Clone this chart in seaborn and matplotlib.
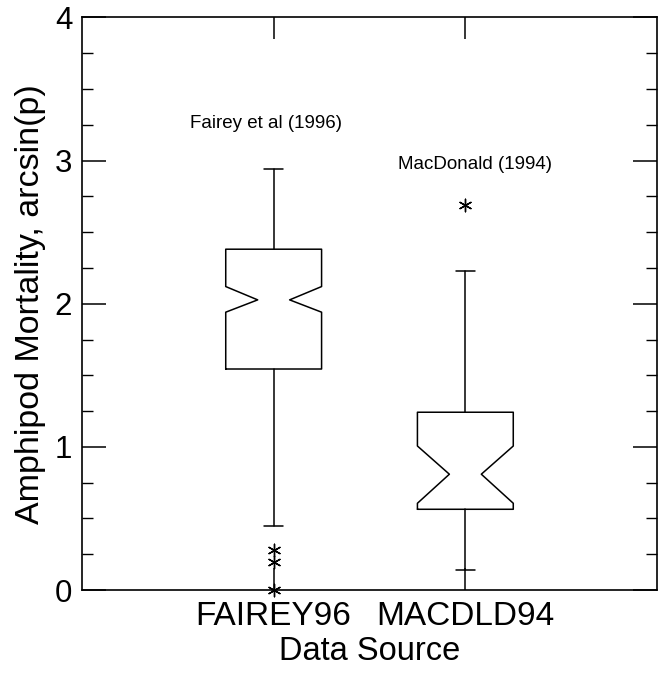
import numpy as np
import pandas as pd
import matplotlib
matplotlib.use("Agg")
import matplotlib.pyplot as plt
from matplotlib.ticker import MultipleLocator
import seaborn as sns

# Box summaries (arcsine-transformed amphipod mortality) per data source
sources = ["FAIREY96", "MACDLD94"]
q1 = [1.544, 0.564]
median = [2.027, 0.809]
q3 = [2.381, 1.242]
notch_lo = [1.941, 0.606]
notch_hi = [2.120, 1.006]
whisker_lo = [0.449, 0.140]
whisker_hi = [2.942, 2.231]

# Outside values
outlier_source = ["FAIREY96", "FAIREY96", "FAIREY96", "MACDLD94"]
outlier_value = [0.280, 0.196, 0.0, 2.690]

# Study annotations
study_labels = ["Fairey et al (1996)", "MacDonald (1994)"]
study_label_y = [3.26, 2.97]
study_label_dx = [-0.04, 0.05]

sns.set_theme(style="ticks")
plt.rcParams["font.family"] = ["Liberation Sans", "DejaVu Sans"]
plt.rcParams.update({"text.color": "black", "axes.labelcolor": "black",
                     "xtick.color": "black", "ytick.color": "black",
                     "axes.edgecolor": "black"})

fig = plt.figure(figsize=(6.6, 6.77), dpi=100)
ax = fig.add_axes([0.1242, 0.1285, 0.8713, 0.8457])

outliers = pd.DataFrame({"source": outlier_source, "value": outlier_value})
sns.stripplot(data=outliers, x="source", y="value", order=sources,
              jitter=False, marker=(6, 2, 0), s=9, color="black",
              linewidth=1.0, edgecolor="black", ax=ax, clip_on=False, zorder=5)

box_width = 0.5
stats = []
for i, name in enumerate(sources):
    stats.append(dict(label=name, med=median[i], q1=q1[i], q3=q3[i],
                      cilo=notch_lo[i], cihi=notch_hi[i],
                      whislo=whisker_lo[i], whishi=whisker_hi[i], fliers=[]))

line_kw = dict(color="black", linewidth=1.1)
art = ax.bxp(stats, positions=range(len(sources)), widths=box_width,
             shownotches=True, showfliers=False, manage_ticks=False,
             capwidths=0.1,
             boxprops=line_kw, whiskerprops=line_kw, capprops=line_kw,
             medianprops=dict(visible=False))

# Deeper notch: waist at one third of the box width
for pos, box in enumerate(art["boxes"]):
    xd = np.asarray(box.get_xdata(), dtype=float)
    inner = np.abs(xd - pos) < box_width / 2 - 1e-9
    xd[inner] = pos + np.sign(xd[inner] - pos) * box_width / 6
    box.set_xdata(xd)

for i, txt in enumerate(study_labels):
    ax.text(i + study_label_dx[i], study_label_y[i], txt, ha="center",
            va="center", fontsize=13.5, color="black")

ax.set_xlim(-1, 2)
ax.set_ylim(0, 4)
ax.yaxis.set_major_locator(MultipleLocator(1))
ax.yaxis.set_minor_locator(MultipleLocator(0.25))
ax.set_xticks(range(len(sources)))
ax.set_xticklabels(sources)

for side in ["left", "right", "top", "bottom"]:
    ax.spines[side].set_visible(True)
    ax.spines[side].set_color("black")
    ax.spines[side].set_linewidth(1.2)

ax.tick_params(axis="y", which="major", direction="in", length=17, width=1.1,
               left=True, right=True, labelsize=22.5, pad=7, color="black")
ax.tick_params(axis="y", which="minor", direction="in", length=8, width=1.0,
               left=True, right=True, color="black")
ax.tick_params(axis="x", which="major", direction="in", length=16, width=1.1,
               top=True, bottom=True, labelsize=24, pad=8, color="black")

ax.set_xlabel("Data Source", fontsize=23.5, labelpad=3)
ax.set_ylabel("Amphipod Mortality, arcsin(p)", fontsize=24.5, labelpad=6)
ax.grid(False)

fig.savefig("out.png", dpi=100, facecolor="white")
